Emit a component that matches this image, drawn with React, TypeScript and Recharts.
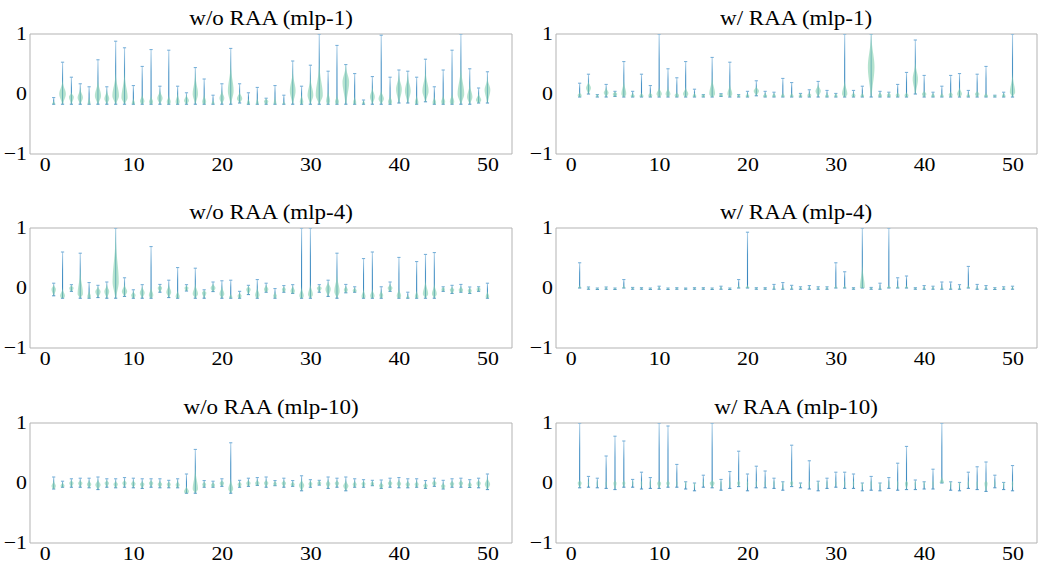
import React from 'react';
import { ComposedChart, Bar, XAxis, YAxis, ReferenceArea } from 'recharts';

// layer index 1..50
const layers = [
  1, 2, 3, 4, 5, 6, 7, 8, 9, 10, 11, 12, 13, 14, 15, 16, 17, 18, 19, 20, 21, 22, 23, 24, 25,
  26, 27, 28, 29, 30, 31, 32, 33, 34, 35, 36, 37, 38, 39, 40, 41, 42, 43, 44, 45, 46, 47, 48, 49, 50,
];
const xTicks = [0, 10, 20, 30, 40, 50];
const yTicks = [-1, 0, 1];

// w/o RAA (mlp-1)
const p1Hi = [-0.06, 0.53, 0.28, 0.17, 0.12, 0.57, 0.12, 0.88, 0.77, 0.14, 0.46, 0.74, 0.13, 0.73, 0.13, 0.02, 0.44, 0.25, -0.02, 0.17, 0.76, 0.17, 0.02, 0.11, -0.07, 0.14, -0.02, 0.55, 0.13, 0.48, 1.0, 0.38, 0.81, 0.49, 0.34, -0.1, 0.29, 0.98, 0.28, 0.4, 0.38, 0.28, 0.58, 0.12, 0.4, 0.73, 1.0, 0.42, 0.1, 0.37];
const p1Lo = [-0.17, -0.17, -0.17, -0.17, -0.17, -0.17, -0.17, -0.17, -0.17, -0.17, -0.17, -0.17, -0.17, -0.17, -0.17, -0.17, -0.17, -0.17, -0.17, -0.17, -0.17, -0.15, -0.17, -0.17, -0.17, -0.17, -0.17, -0.17, -0.17, -0.17, -0.17, -0.17, -0.17, -0.17, -0.17, -0.17, -0.17, -0.17, -0.17, -0.15, -0.15, -0.17, -0.13, -0.17, -0.17, -0.17, -0.17, -0.17, -0.15, -0.15];
const p1Peak = [-0.16, 0.0, -0.05, -0.06, -0.15, -0.03, -0.08, -0.03, -0.06, -0.15, -0.12, -0.13, -0.07, -0.13, -0.13, -0.11, 0.0, -0.13, -0.15, -0.07, 0.05, -0.08, -0.15, -0.15, -0.12, -0.15, -0.16, 0.05, -0.13, -0.02, -0.02, -0.12, -0.13, 0.2, -0.14, -0.15, -0.05, -0.08, -0.13, 0.08, 0.05, -0.14, 0.05, -0.14, -0.13, -0.13, 0.0, -0.05, -0.1, 0.07];
const p1Top = [-0.12, 0.2, 0.02, 0.08, -0.05, 0.2, 0.05, 0.3, 0.3, -0.08, -0.02, -0.04, 0.05, -0.03, 0.0, -0.02, 0.3, -0.02, -0.1, 0.05, 0.45, 0.03, -0.08, -0.07, -0.08, -0.05, -0.12, 0.35, -0.02, 0.25, 0.45, 0.05, -0.03, 0.45, -0.05, -0.12, 0.1, 0.05, -0.03, 0.3, 0.3, -0.03, 0.35, -0.05, -0.03, 0.0, 0.4, 0.15, 0.0, 0.25];
const p1Width = [0.3, 0.75, 0.55, 0.6, 0.3, 0.7, 0.55, 0.75, 0.7, 0.35, 0.5, 0.45, 0.6, 0.45, 0.45, 0.55, 0.6, 0.45, 0.3, 0.55, 0.65, 0.6, 0.35, 0.3, 0.5, 0.3, 0.25, 0.65, 0.4, 0.65, 0.8, 0.45, 0.45, 0.75, 0.35, 0.3, 0.55, 0.6, 0.45, 0.65, 0.65, 0.4, 0.7, 0.4, 0.45, 0.5, 0.75, 0.6, 0.6, 0.65];

// w/ RAA (mlp-1)
const p2Hi = [0.18, 0.33, -0.01, 0.16, 0.045, 0.54, 0.045, 0.33, 0.14, 1.0, 0.42, 0.27, 0.54, 0.08, -0.01, 0.61, 0.005, 0.53, -0.01, 0.045, 0.22, 0.045, 0.03, 0.26, 0.19, 0.01, 0.07, 0.21, 0.06, 0.01, 1.0, 0.06, 0.13, 1.0, 0.045, 0.03, 0.16, 0.36, 0.9, 0.31, 0.03, 0.13, 0.31, 0.34, 0.06, 0.33, 0.46, -0.02, 0.03, 1.0];
const p2Lo = [-0.05, 0.0, -0.05, -0.05, -0.04, -0.05, -0.05, -0.05, -0.05, -0.05, -0.05, -0.05, -0.05, -0.05, -0.05, -0.05, -0.04, -0.05, -0.05, -0.05, -0.03, -0.05, -0.05, -0.05, -0.05, -0.05, -0.05, -0.05, -0.05, -0.05, -0.05, -0.05, -0.05, -0.05, -0.05, -0.05, -0.05, -0.05, 0.0, -0.05, -0.05, -0.05, -0.05, -0.05, -0.05, -0.05, -0.05, -0.05, -0.05, -0.05];
const p2Peak = [-0.02, 0.1, -0.03, 0.02, 0.0, 0.0, -0.03, -0.03, -0.02, 0.0, 0.0, -0.02, 0.0, -0.03, -0.03, 0.0, -0.02, 0.0, -0.03, -0.03, 0.05, -0.03, -0.03, -0.03, -0.03, -0.03, -0.02, 0.05, -0.03, -0.03, 0.0, -0.02, -0.03, 0.45, -0.02, -0.02, -0.02, -0.02, 0.25, 0.0, -0.03, -0.03, -0.01, 0.0, -0.03, 0.0, -0.03, -0.03, -0.03, 0.03];
const p2Top = [0.02, 0.2, -0.02, 0.1, 0.03, 0.2, 0.0, 0.0, 0.02, 0.1, 0.1, 0.02, 0.1, 0.0, -0.02, 0.25, -0.01, 0.15, -0.02, -0.01, 0.12, 0.0, 0.0, -0.01, -0.01, -0.02, 0.0, 0.15, -0.01, -0.02, 0.2, 0.0, -0.01, 0.95, 0.0, 0.0, 0.01, 0.0, 0.5, 0.05, -0.01, -0.01, 0.02, 0.1, 0.0, 0.05, -0.01, -0.025, -0.01, 0.3];
const p2Width = [0.45, 0.55, 0.25, 0.55, 0.5, 0.55, 0.45, 0.45, 0.45, 0.6, 0.55, 0.5, 0.6, 0.4, 0.4, 0.65, 0.45, 0.55, 0.35, 0.4, 0.6, 0.45, 0.4, 0.4, 0.4, 0.4, 0.45, 0.6, 0.4, 0.35, 0.6, 0.45, 0.4, 0.75, 0.45, 0.45, 0.45, 0.45, 0.6, 0.5, 0.4, 0.4, 0.45, 0.55, 0.4, 0.5, 0.45, 0.35, 0.4, 0.6];

// w/o RAA (mlp-4)
const p3Hi = [0.08, 0.6, 0.055, 0.58, 0.09, 0.045, 0.1, 1.0, 0.17, -0.03, 0.055, 0.69, 0.06, 0.13, 0.34, 0.055, 0.33, -0.03, 0.1, 0.12, 0.13, -0.055, 0.045, 0.14, 0.08, -0.01, 0.04, 0.055, 1.0, 1.0, 0.055, 0.13, 0.58, 0.06, 0.02, 0.49, 0.6, 0.02, 0.1, 0.51, -0.07, 0.44, 0.56, 0.59, 0.02, 0.045, 0.06, 0.017, 0.02, 0.08];
const p3Lo = [-0.13, -0.17, -0.055, -0.17, -0.17, -0.16, -0.17, -0.17, -0.14, -0.17, -0.17, -0.17, -0.07, -0.16, -0.17, -0.05, -0.17, -0.17, -0.06, -0.17, -0.17, -0.17, -0.11, -0.17, -0.07, -0.17, -0.07, -0.09, -0.17, -0.17, -0.07, -0.14, -0.17, -0.08, -0.07, -0.17, -0.17, -0.17, -0.055, -0.17, -0.17, -0.17, -0.17, -0.17, -0.055, -0.09, -0.07, -0.09, -0.055, -0.17];
const p3Peak = [-0.02, -0.13, 0.0, -0.1, -0.14, -0.06, -0.06, 0.1, -0.06, -0.12, -0.08, -0.12, 0.0, -0.07, -0.14, 0.0, -0.1, -0.08, 0.0, -0.1, -0.15, -0.13, -0.02, -0.12, -0.02, -0.13, -0.02, -0.05, -0.13, -0.11, 0.0, -0.02, -0.06, -0.03, -0.04, -0.14, -0.13, -0.12, 0.0, -0.13, -0.16, -0.14, -0.1, -0.1, -0.02, -0.03, -0.03, -0.04, -0.02, -0.14];
const p3Top = [0.05, -0.02, 0.04, 0.25, -0.05, 0.02, 0.05, 0.8, 0.05, -0.06, 0.02, 0.0, 0.05, 0.05, -0.05, 0.04, 0.05, -0.04, 0.07, 0.02, -0.1, -0.08, 0.03, 0.0, 0.05, -0.07, 0.02, 0.03, 0.0, 0.05, 0.04, 0.1, 0.2, 0.03, 0.0, -0.03, -0.03, -0.05, 0.06, -0.02, -0.13, -0.05, 0.1, 0.05, 0.01, 0.02, 0.02, 0.0, 0.01, -0.06];
const p3Width = [0.5, 0.55, 0.5, 0.6, 0.4, 0.6, 0.55, 0.7, 0.6, 0.5, 0.55, 0.5, 0.5, 0.55, 0.45, 0.45, 0.6, 0.5, 0.55, 0.55, 0.35, 0.45, 0.5, 0.5, 0.5, 0.4, 0.45, 0.5, 0.5, 0.55, 0.55, 0.6, 0.6, 0.45, 0.45, 0.45, 0.5, 0.45, 0.55, 0.5, 0.35, 0.4, 0.6, 0.55, 0.4, 0.5, 0.5, 0.45, 0.45, 0.4];

// w/ RAA (mlp-4)
const p4Hi = [0.42, 0.017, 0.0, 0.017, 0.0, 0.14, 0.01, 0.005, 0.0, 0.03, 0.0, 0.005, 0.0, 0.005, 0.005, 0.0, 0.03, 0.0, 0.14, 0.93, 0.005, 0.005, 0.06, 0.09, 0.045, 0.02, 0.04, 0.02, 0.02, 0.42, 0.27, 0.005, 1.0, 0.01, 0.08, 1.0, 0.17, 0.2, 0.005, 0.04, 0.03, 0.1, 0.1, 0.055, 0.36, 0.06, 0.04, 0.005, 0.02, 0.03];
const p4Lo = [0.0, -0.02, -0.025, -0.02, -0.025, 0.0, -0.02, -0.02, -0.025, -0.02, -0.025, -0.02, -0.02, -0.02, -0.02, -0.025, -0.02, -0.025, 0.0, 0.0, -0.02, -0.02, -0.02, -0.02, -0.02, -0.02, -0.02, -0.02, -0.02, 0.0, 0.0, -0.02, 0.0, -0.02, -0.02, 0.0, 0.0, 0.0, -0.02, -0.02, -0.02, -0.02, -0.02, -0.02, 0.0, -0.02, -0.02, -0.025, -0.02, -0.02];
const p4Peak = [0.0, -0.01, -0.01, -0.01, -0.01, 0.0, -0.01, -0.01, -0.01, -0.01, -0.01, -0.01, -0.01, -0.01, -0.01, -0.01, -0.01, -0.01, 0.0, 0.0, -0.01, -0.01, -0.01, -0.01, -0.01, -0.01, -0.01, -0.01, -0.01, 0.0, 0.0, -0.01, 0.01, -0.01, -0.01, 0.0, 0.0, 0.0, -0.01, -0.01, -0.01, -0.01, -0.01, -0.01, 0.0, -0.01, -0.01, -0.01, -0.01, -0.01];
const p4Top = [0.02, 0.0, 0.0, 0.0, 0.0, 0.01, 0.0, 0.0, 0.0, 0.0, 0.0, 0.0, 0.0, 0.0, 0.0, 0.0, 0.0, 0.0, 0.01, 0.04, 0.0, 0.0, 0.0, 0.0, 0.0, 0.0, 0.0, 0.0, 0.0, 0.01, 0.01, 0.0, 0.35, 0.0, 0.0, 0.04, 0.01, 0.01, 0.0, 0.0, 0.0, 0.0, 0.0, 0.0, 0.01, 0.0, 0.0, 0.0, 0.0, 0.0];
const p4Width = [0.35, 0.2, 0.2, 0.2, 0.2, 0.3, 0.2, 0.2, 0.2, 0.2, 0.2, 0.2, 0.2, 0.2, 0.2, 0.2, 0.2, 0.2, 0.3, 0.45, 0.2, 0.2, 0.2, 0.2, 0.2, 0.2, 0.2, 0.2, 0.2, 0.3, 0.3, 0.2, 0.55, 0.2, 0.2, 0.45, 0.35, 0.35, 0.2, 0.2, 0.2, 0.2, 0.2, 0.2, 0.35, 0.2, 0.2, 0.2, 0.2, 0.2];

// w/o RAA (mlp-10)
const p5Hi = [0.1, 0.03, 0.07, 0.08, 0.08, 0.1, 0.07, 0.07, 0.09, 0.08, 0.07, 0.07, 0.07, 0.045, 0.07, 0.15, 0.56, 0.04, 0.03, 0.07, 0.67, 0.045, 0.08, 0.09, 0.1, 0.04, 0.08, 0.04, 0.12, 0.055, 0.045, 0.1, 0.08, 0.1, 0.07, 0.055, 0.045, 0.05, 0.08, 0.09, 0.07, 0.07, 0.04, 0.08, 0.045, 0.07, 0.08, 0.055, 0.08, 0.15];
const p5Lo = [-0.1, -0.07, -0.07, -0.07, -0.08, -0.11, -0.07, -0.08, -0.07, -0.08, -0.09, -0.07, -0.08, -0.08, -0.08, -0.17, -0.17, -0.07, -0.07, -0.055, -0.17, -0.07, -0.055, -0.04, -0.07, -0.045, -0.07, -0.055, -0.13, -0.07, -0.035, -0.09, -0.07, -0.13, -0.07, -0.07, -0.045, -0.09, -0.07, -0.08, -0.08, -0.07, -0.09, -0.055, -0.1, -0.07, -0.07, -0.075, -0.08, -0.11];
const p5Peak = [-0.05, -0.04, 0.0, 0.0, -0.02, -0.03, 0.0, -0.02, 0.0, -0.01, -0.02, 0.0, -0.02, -0.02, -0.03, -0.14, -0.1, -0.02, -0.03, 0.0, -0.1, -0.02, 0.0, 0.0, 0.0, -0.01, 0.0, -0.02, -0.04, -0.01, 0.0, -0.01, 0.0, -0.05, -0.02, -0.01, -0.01, -0.04, 0.0, -0.01, -0.02, -0.02, -0.04, 0.0, -0.05, -0.01, 0.0, -0.03, 0.0, -0.02];
const p5Top = [0.03, 0.0, 0.04, 0.04, 0.04, 0.05, 0.04, 0.03, 0.05, 0.04, 0.03, 0.04, 0.03, 0.02, 0.03, -0.06, 0.2, 0.01, 0.0, 0.04, 0.05, 0.02, 0.04, 0.05, 0.05, 0.02, 0.04, 0.01, 0.05, 0.03, 0.03, 0.05, 0.04, 0.04, 0.03, 0.03, 0.02, 0.01, 0.04, 0.05, 0.03, 0.03, 0.0, 0.04, 0.0, 0.03, 0.04, 0.02, 0.04, 0.08];
const p5Width = [0.5, 0.45, 0.5, 0.5, 0.5, 0.6, 0.5, 0.5, 0.5, 0.5, 0.5, 0.5, 0.5, 0.45, 0.45, 0.55, 0.6, 0.45, 0.45, 0.5, 0.55, 0.45, 0.5, 0.5, 0.5, 0.4, 0.5, 0.45, 0.6, 0.45, 0.45, 0.5, 0.5, 0.6, 0.45, 0.45, 0.4, 0.5, 0.5, 0.5, 0.5, 0.45, 0.5, 0.5, 0.5, 0.5, 0.5, 0.45, 0.5, 0.6];

// w/ RAA (mlp-10)
const p6Hi = [1.0, 0.11, 0.08, 0.45, 0.78, 0.7, 0.06, 0.18, 0.09, 1.0, 0.95, 0.31, 0.02, 0.0, 0.13, 1.0, 0.06, 0.19, 0.53, 0.15, 0.28, 0.2, 0.08, 0.02, 0.63, 0.0, 0.37, 0.03, 0.08, 0.18, 0.18, 0.15, 0.0, 0.11, 0.0, 0.09, 0.33, 0.61, 0.05, 0.02, 0.23, 1.0, 0.02, 0.01, 0.18, 0.27, 0.35, 0.13, 0.01, 0.29];
const p6Lo = [-0.08, -0.07, -0.08, -0.09, -0.11, -0.07, -0.07, -0.1, -0.09, -0.09, -0.07, -0.07, -0.1, -0.13, -0.07, -0.08, -0.12, -0.09, -0.06, -0.13, -0.08, -0.08, -0.09, -0.12, -0.06, -0.08, -0.1, -0.13, -0.09, -0.07, -0.09, -0.09, -0.13, -0.12, -0.13, -0.09, -0.12, -0.11, -0.11, -0.1, -0.1, 0.0, -0.12, -0.13, -0.09, -0.11, -0.14, -0.08, -0.11, -0.13];
const p6Peak = [0.0, 0.0, 0.0, 0.0, 0.0, 0.0, 0.0, 0.0, 0.0, 0.0, 0.0, 0.0, 0.0, 0.0, 0.0, 0.0, 0.0, 0.0, 0.0, 0.0, 0.0, 0.0, 0.0, 0.0, 0.0, 0.0, 0.0, 0.0, 0.0, 0.0, 0.0, 0.0, 0.0, 0.0, 0.0, 0.0, 0.0, 0.0, 0.0, 0.0, 0.0, 0.0, 0.0, 0.0, 0.0, 0.0, 0.0, 0.0, 0.0, 0.0];
const p6Top = [0.01, 0.0, 0.0, 0.0, 0.01, 0.01, 0.0, 0.0, 0.0, 0.01, 0.01, 0.0, 0.0, 0.0, 0.0, 0.03, 0.0, 0.0, 0.01, 0.0, 0.0, 0.0, 0.0, 0.0, 0.01, 0.0, 0.0, 0.0, 0.0, 0.0, 0.0, 0.0, 0.0, 0.0, 0.0, 0.0, 0.0, 0.01, 0.0, 0.0, 0.0, 0.1, 0.0, 0.0, 0.0, 0.0, 0.01, 0.0, 0.0, 0.0];
const p6Width = [0.45, 0.15, 0.15, 0.15, 0.35, 0.35, 0.15, 0.15, 0.15, 0.45, 0.4, 0.15, 0.15, 0.15, 0.15, 0.55, 0.15, 0.15, 0.35, 0.15, 0.15, 0.15, 0.15, 0.15, 0.35, 0.15, 0.15, 0.15, 0.15, 0.15, 0.15, 0.15, 0.15, 0.15, 0.15, 0.15, 0.15, 0.35, 0.15, 0.15, 0.15, 0.5, 0.15, 0.15, 0.15, 0.15, 0.35, 0.15, 0.15, 0.15];

const panels = [
  { key: 'a', title: 'w/o RAA (mlp-1)', hi: p1Hi, lo: p1Lo, peak: p1Peak, top: p1Top, width: p1Width },
  { key: 'b', title: 'w/ RAA (mlp-1)', hi: p2Hi, lo: p2Lo, peak: p2Peak, top: p2Top, width: p2Width },
  { key: 'c', title: 'w/o RAA (mlp-4)', hi: p3Hi, lo: p3Lo, peak: p3Peak, top: p3Top, width: p3Width },
  { key: 'd', title: 'w/ RAA (mlp-4)', hi: p4Hi, lo: p4Lo, peak: p4Peak, top: p4Top, width: p4Width },
  { key: 'e', title: 'w/o RAA (mlp-10)', hi: p5Hi, lo: p5Lo, peak: p5Peak, top: p5Top, width: p5Width },
  { key: 'f', title: 'w/ RAA (mlp-10)', hi: p6Hi, lo: p6Lo, peak: p6Peak, top: p6Top, width: p6Width },
];

const FONT = '"Liberation Serif", serif';
const STRETCH = 1.15; // the reference's text is slightly wider than it is tall
const X_DOMAIN: [number, number] = [-1.725, 52.725];
const colLeft = [30, 556];
const colRight = [512, 1037];
const rowTop = [34, 228, 423];
const PLOT_H = 120;
const Y_AXIS_W = 30;

const fmt = (v: number) => (v < 0 ? `\u2212${Math.abs(v)}` : `${v}`);

const XTick = (props: any) => {
  const { x, y, payload } = props;
  return (
    <g transform={`translate(${x},${y})`}>
      <text transform={`scale(${STRETCH},1)`} textAnchor="middle" dy="0.74em" fill="#000" fontSize={19} style={{ fontFamily: FONT }}>
        {fmt(payload.value)}
      </text>
    </g>
  );
};

const YTick = (props: any) => {
  const { x, y, payload } = props;
  return (
    <g transform={`translate(${x},${y})`}>
      <text transform={`scale(${STRETCH},1)`} textAnchor="end" dy="0.34em" fill="#000" fontSize={19} style={{ fontFamily: FONT }}>
        {fmt(payload.value)}
      </text>
    </g>
  );
};

const makeViolin = (panelKey: string) => (props: any) => {
  const { x, y, width, height, payload, index } = props;
  if (payload == null || height == null) return <g />;
  const yTop = Math.min(y, y + height);
  const h = Math.abs(height);
  const { lo, hi, peak, bodyTop, w } = payload;
  const span = hi - lo || 1e-6;
  const py = (v: number) => yTop + (h * (hi - v)) / span;
  const cx = x + width / 2;
  const maxHalf = width * 0.55 * w;
  const sLow = Math.max((peak - lo) / 2, 0.035);
  const sHigh = Math.max((bodyTop - peak) / 2.2, 0.02);
  const n = Math.max(10, Math.ceil(h * 2));
  const right: string[] = [];
  const left: string[] = [];
  for (let k = 0; k <= n; k++) {
    const v = lo + (span * k) / n;
    const s = v < peak ? sLow : sHigh;
    const hw = maxHalf * Math.exp(-0.5 * ((v - peak) / s) ** 2);
    right.push(`${(cx + hw).toFixed(2)},${py(v).toFixed(2)}`);
    left.unshift(`${(cx - hw).toFixed(2)},${py(v).toFixed(2)}`);
  }
  const gid = `grad-${panelKey}-${index}`;
  const yHi = py(hi);
  const yLo = py(lo);
  return (
    <g>
      <defs>
        <linearGradient id={gid} gradientUnits="userSpaceOnUse" x1={0} y1={yHi} x2={0} y2={Math.max(yLo, yHi + 1)}>
          <stop offset="0%" stopColor="#b3d3ea" />
          <stop offset="40%" stopColor="#4f97c9" />
          <stop offset="100%" stopColor="#2f7fba" />
        </linearGradient>
      </defs>
      <line x1={cx} x2={cx} y1={yHi} y2={yLo} stroke={`url(#${gid})`} strokeWidth={1.1} />
      <line x1={cx - 1.6} x2={cx + 1.6} y1={yHi} y2={yHi} stroke="#6eaad6" strokeWidth={1} />
      <line x1={cx - 1.6} x2={cx + 1.6} y1={yLo} y2={yLo} stroke="#4f94c8" strokeWidth={1} />
      <polygon points={[...right, ...left].join(' ')} fill="#86d1b0" fillOpacity={0.62} stroke="none" />
    </g>
  );
};

const ViolinPanel = ({ panel, idx }: { panel: (typeof panels)[number]; idx: number }) => {
  const col = idx % 2;
  const row = Math.floor(idx / 2);
  const left = colLeft[col] - Y_AXIS_W;
  const plotW = colRight[col] - colLeft[col];
  const top = rowTop[row];
  const data = layers.map((layer, i) => ({
    layer,
    lo: panel.lo[i],
    hi: panel.hi[i],
    peak: panel.peak[i],
    bodyTop: panel.top[i],
    w: panel.width[i],
    range: [panel.lo[i], panel.hi[i]],
  }));
  return (
    <>
      <div
        style={{
          position: 'absolute',
          left: colLeft[col],
          width: plotW,
          top: top - 26,
          textAlign: 'center',
          fontFamily: FONT,
          fontSize: 20,
          lineHeight: '20px',
          color: '#000',
          whiteSpace: 'nowrap',
        }}
      >
        <span style={{ display: 'inline-block', transform: `scaleX(${STRETCH})`, fontFamily: FONT }}>{panel.title}</span>
      </div>
      <div style={{ position: 'absolute', left, top: top - 10, fontFamily: FONT }}>
        <ComposedChart
          width={Y_AXIS_W + plotW + 1}
          height={10 + PLOT_H + 28}
          data={data}
          margin={{ top: 10, right: 1, bottom: 0, left: 0 }}
          style={{ fontFamily: FONT }}
        >
          <XAxis
            dataKey="layer"
            type="number"
            domain={X_DOMAIN}
            ticks={xTicks}
            allowDataOverflow
            axisLine={false}
            tickLine={false}
            tickSize={0}
            tickMargin={3}
            height={28}
            interval={0}
            tick={<XTick />}
          />
          <YAxis
            type="number"
            domain={[-1, 1]}
            ticks={yTicks}
            allowDataOverflow
            axisLine={false}
            tickLine={false}
            tickSize={0}
            tickMargin={3}
            width={Y_AXIS_W}
            interval={0}
            tick={<YTick />}
          />
          <ReferenceArea
            x1={X_DOMAIN[0]}
            x2={X_DOMAIN[1]}
            y1={-1}
            y2={1}
            fill="none"
            stroke="#b3b3b3"
            strokeWidth={1}
            ifOverflow="visible"
          />
          <Bar dataKey="range" barSize={8} isAnimationActive={false} shape={makeViolin(panel.key)} />
        </ComposedChart>
      </div>
    </>
  );
};

export default function App() {
  return (
    <div style={{ position: 'absolute', left: 0, top: 0, width: 1038, height: 561, background: '#fff', overflow: 'hidden', fontFamily: FONT }}>
      {panels.map((p, i) => (
        <ViolinPanel key={p.key} panel={p} idx={i} />
      ))}
    </div>
  );
}
